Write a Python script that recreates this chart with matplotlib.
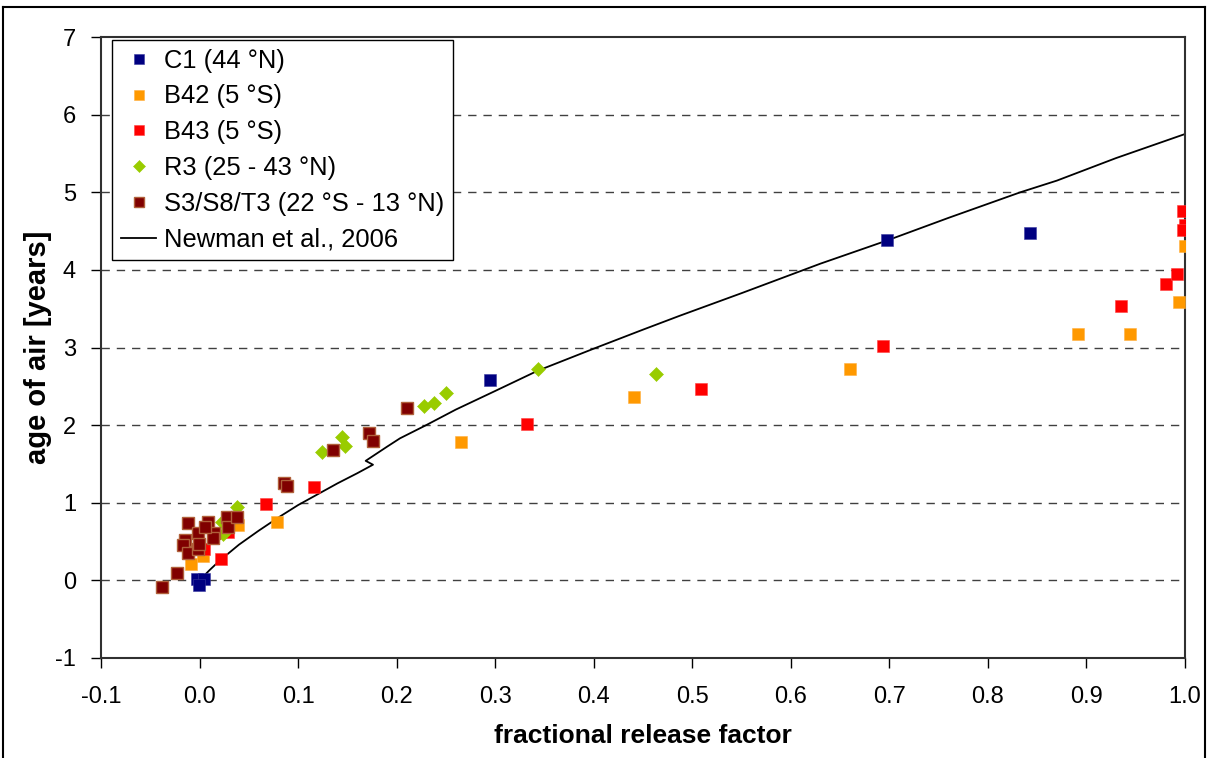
import matplotlib
matplotlib.use("Agg")
import matplotlib.pyplot as plt
from matplotlib.lines import Line2D
import numpy as np

plt.rcParams['font.family'] = ['Liberation Sans', 'DejaVu Sans']
plt.rcParams['axes.unicode_minus'] = False

# fractional release factor (x) and age of air in years (y) per campaign
c1_x = [-0.003, 0.005, -0.001, 0.295, 0.698, 0.843]
c1_y = [0.02, 0.02, -0.065, 2.58, 4.38, 4.47]

b42_x = [-0.009, 0.003, 0.039, 0.079, 0.265, 0.441, 0.660, 0.891, 0.944, 0.9935, 0.9996]
b42_y = [0.21, 0.32, 0.71, 0.75, 1.78, 2.36, 2.72, 3.18, 3.18, 3.59, 4.31]

b43_x = [0.0048, 0.0218, 0.029, 0.0674, 0.116, 0.332, 0.509, 0.694, 0.935, 0.981, 0.992, 0.998, 1.0, 0.998]
b43_y = [0.40, 0.27, 0.62, 0.99, 1.20, 2.01, 2.47, 3.02, 3.54, 3.82, 3.95, 4.76, 4.58, 4.52]

r3_x = [0.0224, 0.024, 0.0376, 0.124, 0.145, 0.148, 0.228, 0.238, 0.250, 0.343, 0.463]
r3_y = [0.75, 0.60, 0.94, 1.66, 1.85, 1.73, 2.25, 2.28, 2.42, 2.72, 2.66]

s3_x = [-0.0378, -0.0226, -0.012, 0.0082, -0.0013, -0.0149, -0.0165, -0.0114, -0.0013,
        -0.0003, 0.015, 0.014, 0.0055, 0.0275, 0.0285, 0.0376, 0.0857, 0.089, 0.135,
        0.172, 0.176, 0.211]
s3_y = [-0.09, 0.10, 0.74, 0.75, 0.61, 0.52, 0.46, 0.35, 0.41, 0.47, 0.61, 0.54, 0.69,
        0.81, 0.69, 0.81, 1.26, 1.22, 1.68, 1.90, 1.80, 2.22]

# Newman et al. (2006) relation, drawn as one polyline with its small step near 0.17
newman_x = [0.0, 0.01, 0.02, 0.04, 0.06, 0.08, 0.10, 0.12, 0.14, 0.16, 0.176,
            0.1686, 0.19, 0.2034, 0.23, 0.26, 0.30, 0.343, 0.403, 0.45, 0.4875,
            0.55, 0.63, 0.698, 0.76, 0.833, 0.87, 0.93, 1.0]
newman_y = [0.0, 0.13, 0.25, 0.46, 0.64, 0.81, 0.97, 1.11, 1.25, 1.38, 1.49,
            1.54, 1.72, 1.83, 2.0, 2.2, 2.44, 2.70, 3.0, 3.23, 3.41,
            3.70, 4.08, 4.38, 4.67, 5.0, 5.15, 5.44, 5.75]

x_ticks = [-0.1, 0.0, 0.1, 0.2, 0.3, 0.4, 0.5, 0.6, 0.7, 0.8, 0.9, 1.0]
y_ticks = [-1, 0, 1, 2, 3, 4, 5, 6, 7]

fig = plt.figure(figsize=(12.08, 7.58), dpi=100)
ax = fig.add_axes([101 / 1208, 100 / 758, 1084 / 1208, 621 / 758])

# outer frame of the chart area
fig.add_artist(Line2D([3 / 1208, 3 / 1208], [0, 751 / 758], transform=fig.transFigure, color='black', lw=1.5))
fig.add_artist(Line2D([3 / 1208, 1205 / 1208], [751 / 758, 751 / 758], transform=fig.transFigure, color='black', lw=1.5))
fig.add_artist(Line2D([1205 / 1208, 1205 / 1208], [0, 751 / 758], transform=fig.transFigure, color='black', lw=1.5))

for yv in y_ticks[1:-1]:
    ax.axhline(yv, color='#404040', lw=1.0, linestyle=(0, (6, 5)), zorder=1)

ax.plot(newman_x, newman_y, color='black', lw=1.3, zorder=2, label='Newman et al., 2006')

ms = 8
ax.plot(c1_x, c1_y, 's', color='#000080', ms=ms, mec='#3a3aa0', mew=0.4, zorder=3, label='C1 (44 °N)')
ax.plot(b42_x, b42_y, 's', color='#FF9900', ms=ms, mec='#FFB040', mew=0.4, zorder=3, label='B42 (5 °S)')
ax.plot(b43_x, b43_y, 's', color='#FF0000', ms=ms, mec='#FF4040', mew=0.4, zorder=3, label='B43 (5 °S)')
ax.plot(r3_x, r3_y, 'D', color='#99CC00', ms=7, mec='#99CC00', mew=0.4, zorder=3, label='R3 (25 - 43 °N)')
ax.plot(s3_x, s3_y, 's', color='#800000', ms=ms, mec='#B0603A', mew=1.0, zorder=4, label='S3/S8/T3 (22 °S - 13 °N)')

ax.set_xlim(-0.1, 1.0)
ax.set_ylim(-1, 7)
ax.set_xticks(x_ticks)
ax.set_xticklabels([f"{v:.1f}" for v in x_ticks])
ax.set_yticks(y_ticks)
ax.tick_params(axis='both', direction='out', length=7, width=1, labelsize=17, colors='black')
ax.tick_params(axis='x', pad=13)
ax.tick_params(axis='y', pad=11)
for sp in ax.spines.values():
    sp.set_color('#303030')
    sp.set_linewidth(1.5)

ax.set_xlabel('fractional release factor', fontsize=19, fontweight='bold', labelpad=12)
ax.set_ylabel('age of air [years]', fontsize=21, fontweight='bold', labelpad=2)

handles, labels = ax.get_legend_handles_labels()
order = [1, 2, 3, 4, 5, 0]
leg = ax.legend([handles[i] for i in order], [labels[i] for i in order],
                loc='upper left', bbox_to_anchor=(11 / 1084, 1 - 3 / 621), fontsize=18.4,
                frameon=True, fancybox=False, edgecolor='black', framealpha=1,
                markerscale=0.85, handlelength=1.4, labelspacing=0.46, borderpad=0.34,
                handletextpad=0.3, borderaxespad=0)
leg.get_frame().set_linewidth(1.0)

fig.savefig('out.png', dpi=100)
